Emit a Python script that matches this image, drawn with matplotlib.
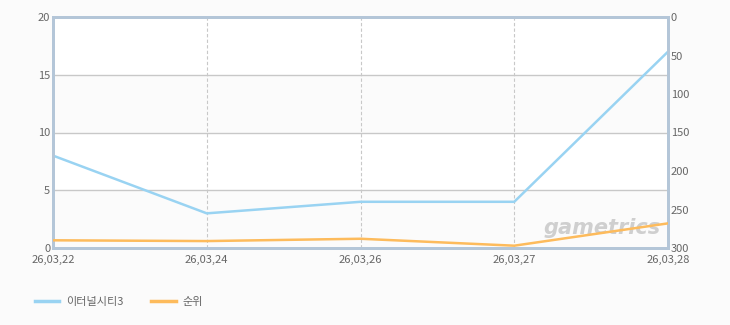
import matplotlib
matplotlib.use("Agg")
import matplotlib.pyplot as plt

plt.rcParams['font.family'] = ['Noto Sans CJK KR', 'DejaVu Sans']

dates = ["26,03,22", "26,03,24", "26,03,26", "26,03,27", "26,03,28"]
game_values = [8, 3, 4, 4, 17]
rank_values = [290, 291, 288, 297, 268]

blue = "#99d3f2"
orange = "#fdbb5c"
spine_col = "#b4c6d8"
text_col = "#666666"

fig = plt.figure(figsize=(7.3, 3.25), dpi=100, facecolor="#fbfbfb")
ax = fig.add_axes([53 / 730, 77 / 325, 615 / 730, 231 / 325])
ax.set_facecolor("#fbfbfb")

x = list(range(len(dates)))
ax.set_xlim(0, len(dates) - 1)
ax.set_ylim(0, 20)

# alternating bands
for lo, hi in [(15, 20), (5, 10)]:
    ax.axhspan(lo, hi, color="white", zorder=0)
for yv in [5, 10, 15]:
    ax.axhline(yv, color="#c8c8c8", lw=1, zorder=1)
for xv in x[1:-1]:
    ax.axvline(xv, color="#c8c8c8", lw=0.8, ls=(0, (3, 2)), zorder=1)

ax.plot(x, game_values, color=blue, lw=1.8, zorder=3)

ax2 = ax.twinx()
ax2.set_ylim(300, 0)
ax2.plot(x, rank_values, color=orange, lw=1.8, zorder=3)

# watermark
ax.text(3.95, 1.2, "gametrics", fontsize=15, fontweight="bold", style="italic",
        color="#c4c4c4", alpha=0.8, family="DejaVu Sans", ha="right",
        va="baseline", zorder=2)

ax.set_xticks(x)
ax.set_xticklabels(dates)
ax.set_yticks([0, 5, 10, 15, 20])
ax2.set_yticks([0, 50, 100, 150, 200, 250, 300])

for a in (ax, ax2):
    for s in a.spines.values():
        s.set_color(spine_col)
        s.set_linewidth(2)
    a.tick_params(length=0, colors=text_col, labelsize=8, pad=2)
ax.tick_params(axis="x", pad=5)

ax.plot([], [], color=blue, lw=2.5, label="이터널시티3")
ax.plot([], [], color=orange, lw=2.5, label="순위")
fig.legend(*ax.get_legend_handles_labels(), loc="center left",
           bbox_to_anchor=(25 / 730, 1 - 302 / 325), ncol=2, frameon=False,
           fontsize=8, handlelength=2.2, handletextpad=0.6, columnspacing=2.5,
           labelcolor=text_col)

fig.savefig("out.png", dpi=100, facecolor=fig.get_facecolor())
